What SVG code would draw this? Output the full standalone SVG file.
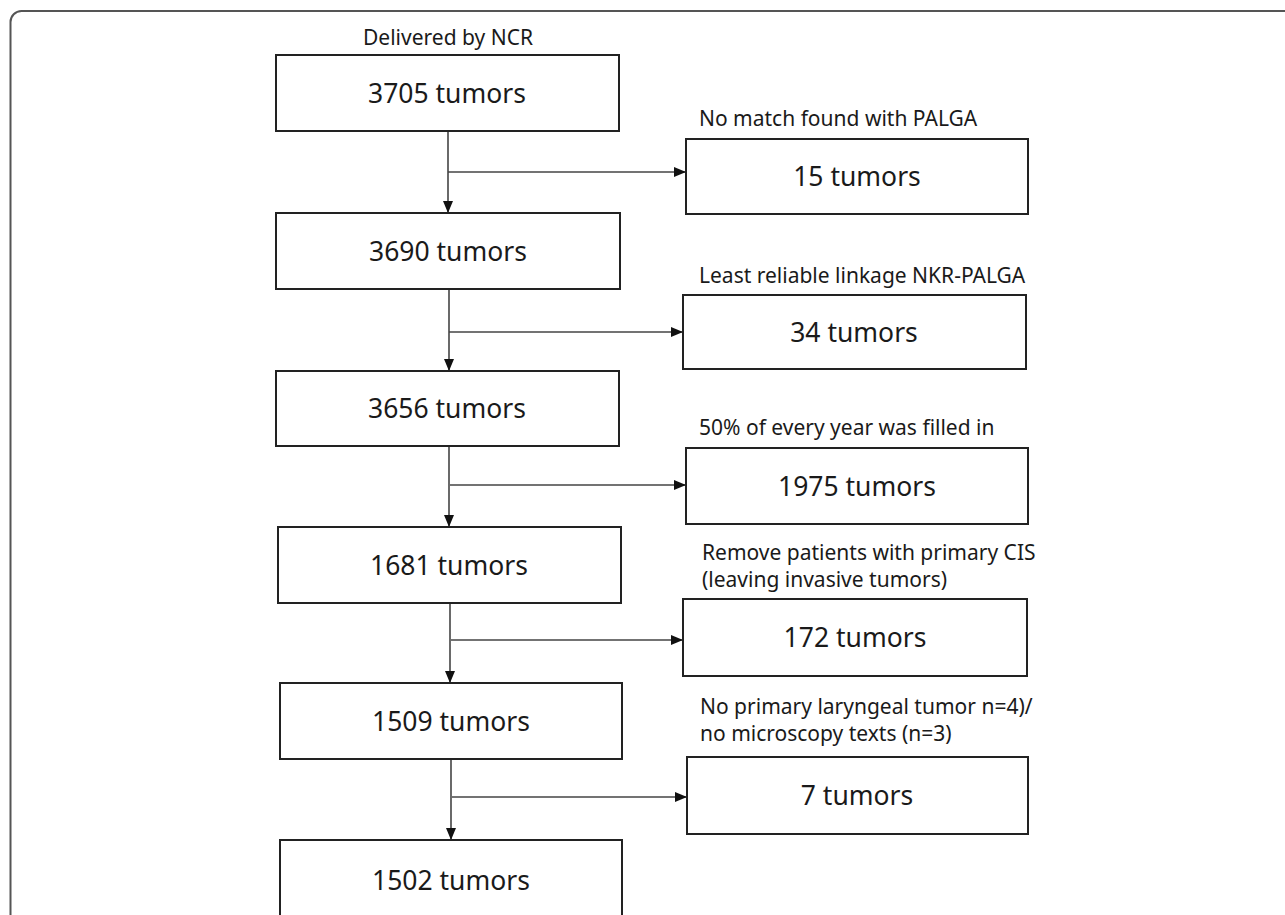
<svg xmlns="http://www.w3.org/2000/svg" width="1285" height="915" viewBox="0 0 1285 915">
<style>
.frame{fill:none;stroke:#555;stroke-width:2}
.box{fill:#fff;stroke:#222;stroke-width:2}
.num{font-family:"Noto Sans","Open Sans","Liberation Sans",sans-serif;font-size:26.5px;fill:#1a1a1a;text-anchor:middle}
.lbl{font-family:"Noto Sans","Open Sans","Liberation Sans",sans-serif;font-size:21px;fill:#1a1a1a}
.con{fill:none;stroke:#444;stroke-width:1.6}
</style>
<defs>
<marker id="ah" markerUnits="userSpaceOnUse" markerWidth="12" markerHeight="10" refX="12" refY="5" orient="auto">
<path d="M0,0 L12,5 L0,10 z" fill="#111"/>
</marker>
</defs>
<rect class="frame" x="10.5" y="11" width="1300" height="930" rx="11"/>
<g id="connectors">
<path class="con" d="M448,131 V213" marker-end="url(#ah)"/>
<path class="con" d="M448,172 H686" marker-end="url(#ah)"/>
<path class="con" d="M449,289 V371" marker-end="url(#ah)"/>
<path class="con" d="M449,332 H683" marker-end="url(#ah)"/>
<path class="con" d="M449,446 V527" marker-end="url(#ah)"/>
<path class="con" d="M450,485 H686" marker-end="url(#ah)"/>
<path class="con" d="M450,603 V683" marker-end="url(#ah)"/>
<path class="con" d="M451,640 H683" marker-end="url(#ah)"/>
<path class="con" d="M451,759 V840" marker-end="url(#ah)"/>
<path class="con" d="M452,797 H687" marker-end="url(#ah)"/>
</g>
<g id="n3705">
<text class="lbl" x="448" y="45" text-anchor="middle">Delivered by NCR</text>
<rect class="box" x="276" y="55" width="343" height="76"/>
<text class="num" x="447" y="103">3705 tumors</text>
</g>
<g id="n15">
<text class="lbl" x="699" y="126">No match found with PALGA</text>
<rect class="box" x="686" y="139" width="342" height="75"/>
<text class="num" x="857" y="186">15 tumors</text>
</g>
<g id="n3690">
<rect class="box" x="276" y="213" width="344" height="76"/>
<text class="num" x="448" y="261">3690 tumors</text>
</g>
<g id="n34">
<text class="lbl" x="699" y="283">Least reliable linkage NKR-PALGA</text>
<rect class="box" x="683" y="295" width="343" height="74"/>
<text class="num" x="854" y="342">34 tumors</text>
</g>
<g id="n3656">
<rect class="box" x="276" y="371" width="343" height="75"/>
<text class="num" x="447" y="418">3656 tumors</text>
</g>
<g id="n1975">
<text class="lbl" x="699" y="435">50% of every year was filled in</text>
<rect class="box" x="686" y="448" width="342" height="76"/>
<text class="num" x="857" y="496">1975 tumors</text>
</g>
<g id="n1681">
<rect class="box" x="278" y="527" width="343" height="76"/>
<text class="num" x="449" y="575">1681 tumors</text>
</g>
<g id="n172">
<text class="lbl" x="702" y="560">Remove patients with primary CIS</text>
<text class="lbl" x="702" y="587">(leaving invasive tumors)</text>
<rect class="box" x="683" y="599" width="344" height="77"/>
<text class="num" x="855" y="647">172 tumors</text>
</g>
<g id="n1509">
<rect class="box" x="280" y="683" width="342" height="76"/>
<text class="num" x="451" y="731">1509 tumors</text>
</g>
<g id="n7">
<text class="lbl" x="700" y="714">No primary laryngeal tumor n=4)/</text>
<text class="lbl" x="700" y="741">no microscopy texts (n=3)</text>
<rect class="box" x="687" y="757" width="341" height="77"/>
<text class="num" x="857" y="805">7 tumors</text>
</g>
<g id="n1502">
<rect class="box" x="280" y="840" width="342" height="80"/>
<text class="num" x="451" y="890">1502 tumors</text>
</g>
</svg>
